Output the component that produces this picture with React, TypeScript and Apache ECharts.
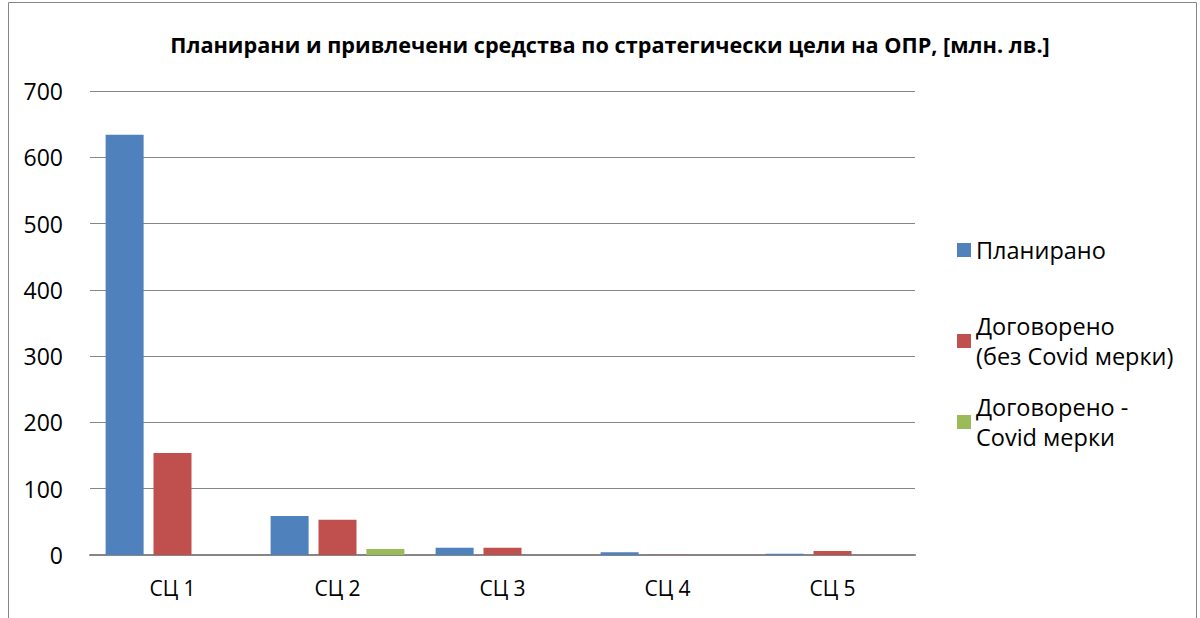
import React, { useEffect, useRef } from "react";
import * as echarts from "echarts";

const categories = ["СЦ 1", "СЦ 2", "СЦ 3", "СЦ 4", "СЦ 5"];
const planned = [634, 59, 11, 4, 2];
const contracted = [154, 53, 11, 0.5, 6];
const covid = [0, 9, 0, 0, 0];
const seriesNames = ["Планирано", "Договорено\n(без Covid мерки)", "Договорено -\nCovid мерки"];
const yTicks = { min: 0, max: 700, interval: 100 };
const titleText = "Планирани и привлечени средства по стратегически цели на ОПР, [млн. лв.]";

const FONT = "Open Sans";

export default function App() {
  const ref = useRef<HTMLDivElement>(null);
  useEffect(() => {
    if (!ref.current) return;
    const chart = echarts.init(ref.current, null, { renderer: "svg" });
    const colors = ["#4F81BD", "#C0504D", "#9BBB59"];
    const values = [planned, contracted, covid];
    const legendTops = [230, 291, 372];
    chart.setOption({
      animation: false,
      color: colors,
      textStyle: { fontFamily: FONT },
      title: {
        text: titleText,
        left: 605,
        textAlign: "center",
        top: 28,
        textStyle: { fontFamily: FONT, fontWeight: "bold", fontSize: 21.7, color: "#000" },
      },
      graphic: [
        {
          type: "rect",
          shape: { x: 8.5, y: 2.5, width: 1188, height: 640 },
          style: { fill: "none", stroke: "#868686", lineWidth: 1 },
          silent: true,
        },
      ],
      legend: seriesNames.map((n, i) => ({
        orient: "vertical",
        left: 952,
        top: legendTops[i],
        itemWidth: 14,
        itemHeight: 14,
        icon: "rect",
        data: [
          {
            name: n,
            textStyle: i === 0 ? {} : { padding: [30, 0, 0, 0] },
          },
        ],
        textStyle: { fontFamily: FONT, fontSize: 23.5, color: "#000", lineHeight: 30 },
      })),
      grid: { left: 90, right: 285, top: 91, bottom: 63, containLabel: false },
      xAxis: {
        type: "category",
        data: categories,
        axisLine: { lineStyle: { color: "#868686", width: 2 } },
        axisTick: { show: false },
        axisLabel: { fontFamily: FONT, fontSize: 21, color: "#000", margin: 22 },
      },
      yAxis: {
        type: "value",
        min: yTicks.min,
        max: yTicks.max,
        interval: yTicks.interval,
        axisLine: { show: false },
        axisTick: { show: false },
        splitLine: { lineStyle: { color: "#868686", width: 1 } },
        axisLabel: { fontFamily: FONT, fontSize: 23, color: "#000", margin: 27 },
      },
      series: seriesNames.map((n, i) => ({
        type: "bar",
        name: n,
        data: values[i],
        barWidth: 38,
        barGap: "26%",
        itemStyle: { color: colors[i] },
      })),
    });
    return () => chart.dispose();
  }, []);
  return (
    <div
      ref={ref}
      style={{ position: "fixed", left: 0, top: 0, width: 1200, height: 618, background: "#fff" }}
    />
  );
}
